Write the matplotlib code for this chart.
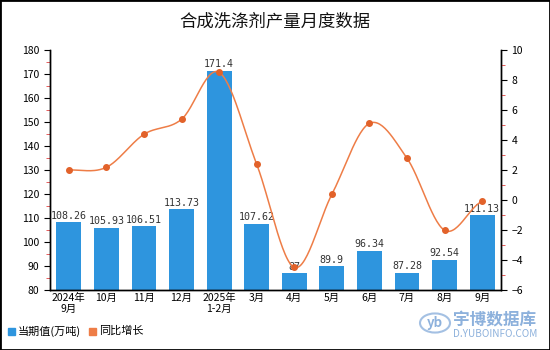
import matplotlib.pyplot as plt
import numpy as np
from matplotlib.patches import Rectangle

plt.rcParams['font.family'] = ['Noto Sans CJK SC', 'DejaVu Sans']

months = ['2024年\n9月', '10月', '11月', '12月', '2025年\n1-2月', '3月',
          '4月', '5月', '6月', '7月', '8月', '9月']
output = [108.26, 105.93, 106.51, 113.73, 171.4, 107.62,
          87, 89.9, 96.34, 87.28, 92.54, 111.13]
growth = [2.0, 2.18, 4.38, 5.38, 8.51, 2.38,
          -4.49, 0.38, 5.11, 2.78, -2.02, -0.09]

bar_color = '#2E95DE'
line_color = '#EE7D47'
dot_color = '#E2622A'


def smooth(xs, ys, n=30, k=0.25):
    # Hermite curve through the points, tangents from neighbours
    xs = np.asarray(xs, float)
    ys = np.asarray(ys, float)
    py = np.concatenate([[ys[0]], ys, [ys[-1]]])
    outx, outy = [], []
    t = np.linspace(0, 1, n)
    h00 = 2 * t**3 - 3 * t**2 + 1
    h10 = t**3 - 2 * t**2 + t
    h01 = -2 * t**3 + 3 * t**2
    h11 = t**3 - t**2
    for i in range(1, len(py) - 2):
        p0, p1, p2, p3 = py[i - 1], py[i], py[i + 1], py[i + 2]
        m1 = (p2 - p0) * k * 2
        m2 = (p3 - p1) * k * 2
        outy.extend(h00 * p1 + h10 * m1 + h01 * p2 + h11 * m2)
        outx.extend(xs[i - 1] + t * (xs[i] - xs[i - 1]))
    return np.array(outx), np.array(outy)


fig = plt.figure(figsize=(5.5, 3.5), dpi=100)
ax = fig.add_axes([50 / 550, 60 / 350, 451 / 550, 240 / 350])
ax2 = ax.twinx()

x = np.arange(len(months))
ax.bar(x, output, width=0.66, color=bar_color, zorder=2)
for xi, v in zip(x, output):
    ax.text(xi, v + 0.6, f'{v:g}', ha='center', va='bottom', fontsize=7.2,
            family='DejaVu Sans Mono', color='#333333')

ax.set_xlim(-0.5, len(months) - 0.5)
ax.set_ylim(80, 180)
ax.set_yticks(np.arange(80, 181, 10))
ax.set_yticks(np.arange(85, 180, 10), minor=True)
ax.set_xticks(x)
ax.set_xticklabels(months, fontsize=7.5, linespacing=1.1)
ax.tick_params(axis='x', length=0, pad=2)
ax.tick_params(axis='y', which='major', labelsize=7.5, length=4, direction='out')
ax.tick_params(axis='y', which='minor', length=3, color='#E04040')

sx, sy = smooth(x, growth)
ax2.plot(sx, sy, color=line_color, lw=1.1, zorder=3)
ax2.plot(x, growth, 'o', color=dot_color, ms=4, zorder=4)
ax2.set_ylim(-6, 10)
ax2.set_yticks(np.arange(-6, 11, 2))
ax2.set_yticks(np.arange(-5, 10, 2), minor=True)
ax2.set_yticklabels([str(v).replace('-', '−') for v in range(-6, 11, 2)])
ax2.tick_params(axis='y', which='major', labelsize=7.5, length=4)
ax2.tick_params(axis='y', which='minor', length=3, color='#E04040')

for a in (ax, ax2):
    a.spines['top'].set_visible(False)
    for s in ('left', 'right', 'bottom'):
        a.spines[s].set_color('black')
        a.spines[s].set_linewidth(1)

fig.text(0.5, 1 - 22 / 350, '合成洗涤剂产量月度数据', ha='center', va='center',
         fontsize=12.5, color='#111111')

# legend along the bottom
fig.patches.append(Rectangle((8 / 550, 1 - 335 / 350), 7 / 550, 7 / 350,
                             transform=fig.transFigure, color=bar_color))
fig.text(18 / 550, 1 - 331 / 350, '当期值(万吨)', fontsize=8, va='center')
fig.patches.append(Rectangle((89 / 550, 1 - 335 / 350), 7 / 550, 7 / 350,
                             transform=fig.transFigure, color=line_color))
fig.text(99 / 550, 1 - 331 / 350, '同比增长', fontsize=8, va='center')

# watermark
wm = '#8DB1DC'
circ = plt.Circle((435 / 550, 1 - 323 / 350), 15 / 550, transform=fig.transFigure,
                  fill=False, ec=wm, lw=1.5, alpha=0.8)
fig.patches.append(circ)
fig.text(435 / 550, 1 - 323 / 350, 'yb', fontsize=9.5, color=wm, ha='center',
         va='center', style='italic', fontweight='bold')
fig.text(453 / 550, 1 - 320 / 350, '宇博数据库', fontsize=12, color=wm,
         va='center', fontweight='bold')
fig.text(453 / 550, 1 - 334 / 350, 'D.YUBOINFO.COM', fontsize=7.2, color=wm,
         va='center')

fig.patches.append(Rectangle((0, 0), 1, 1, transform=fig.transFigure,
                             fill=False, ec='black', lw=2))

fig.savefig('out.png', dpi=100)
